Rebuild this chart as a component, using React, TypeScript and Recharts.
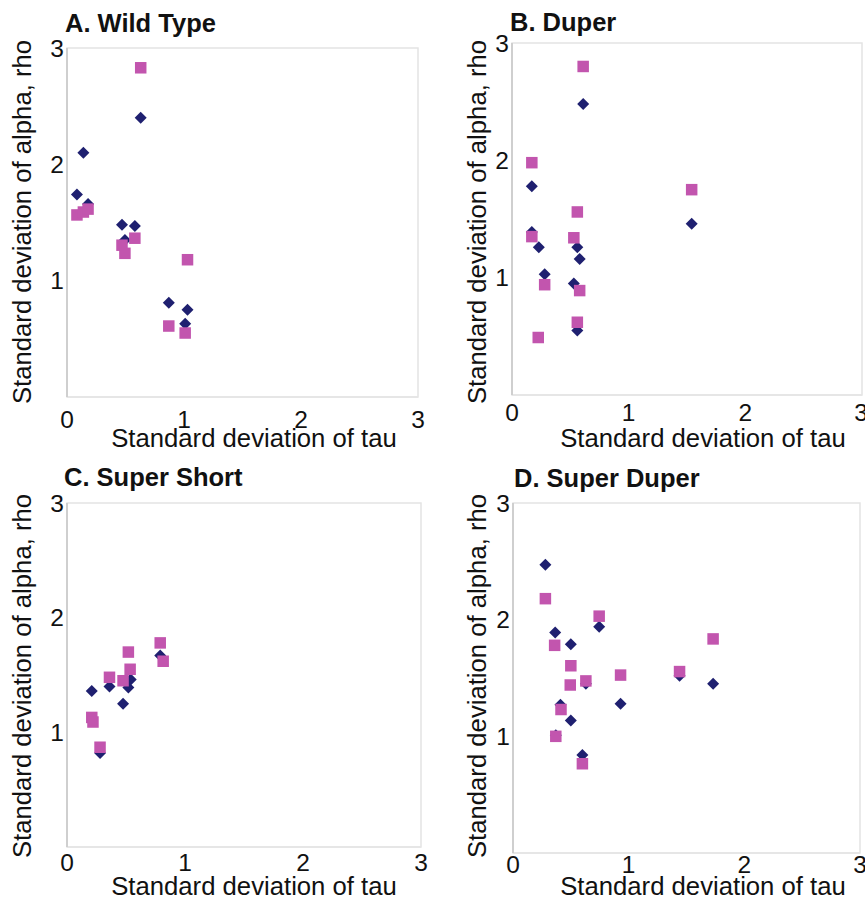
import React from "react";
import { ReferenceArea, Scatter, ScatterChart, XAxis, YAxis } from "recharts";

type Pt = { x: number; y: number };

// axis ticks shared by all four panels
const xTicks = [0, 1, 2, 3];
const yTicks = [1, 2, 3];

// A. Wild Type
const wildTypeDiamonds: Pt[] = [
  { x: 0.085, y: 1.74 },
  { x: 0.14, y: 2.1 },
  { x: 0.18, y: 1.66 },
  { x: 0.47, y: 1.48 },
  { x: 0.58, y: 1.47 },
  { x: 0.495, y: 1.35 },
  { x: 0.63, y: 2.4 },
  { x: 0.87, y: 0.81 },
  { x: 1.03, y: 0.75 },
  { x: 1.01, y: 0.63 },
];
const wildTypeSquares: Pt[] = [
  { x: 0.63, y: 2.83 },
  { x: 0.085, y: 1.565 },
  { x: 0.14, y: 1.59 },
  { x: 0.18, y: 1.615 },
  { x: 0.47, y: 1.305 },
  { x: 0.495, y: 1.235 },
  { x: 0.58, y: 1.365 },
  { x: 1.03, y: 1.18 },
  { x: 0.87, y: 0.61 },
  { x: 1.01, y: 0.55 },
];

// B. Duper
const duperDiamonds: Pt[] = [
  { x: 0.17, y: 1.78 },
  { x: 0.17, y: 1.39 },
  { x: 0.23, y: 1.26 },
  { x: 0.28, y: 1.03 },
  { x: 0.61, y: 2.48 },
  { x: 0.56, y: 1.26 },
  { x: 0.58, y: 1.16 },
  { x: 0.53, y: 0.95 },
  { x: 0.56, y: 0.55 },
  { x: 1.54, y: 1.46 },
];
const duperSquares: Pt[] = [
  { x: 0.17, y: 1.98 },
  { x: 0.17, y: 1.35 },
  { x: 0.28, y: 0.94 },
  { x: 0.225, y: 0.49 },
  { x: 0.61, y: 2.8 },
  { x: 0.56, y: 1.56 },
  { x: 0.53, y: 1.34 },
  { x: 0.58, y: 0.89 },
  { x: 0.56, y: 0.62 },
  { x: 1.54, y: 1.75 },
];

// C. Super Short
const superShortDiamonds: Pt[] = [
  { x: 0.21, y: 1.36 },
  { x: 0.36, y: 1.4 },
  { x: 0.475, y: 1.25 },
  { x: 0.52, y: 1.39 },
  { x: 0.54, y: 1.46 },
  { x: 0.79, y: 1.67 },
  { x: 0.28, y: 0.82 },
];
const superShortSquares: Pt[] = [
  { x: 0.79, y: 1.78 },
  { x: 0.52, y: 1.7 },
  { x: 0.535, y: 1.55 },
  { x: 0.36, y: 1.48 },
  { x: 0.475, y: 1.45 },
  { x: 0.815, y: 1.62 },
  { x: 0.21, y: 1.13 },
  { x: 0.22, y: 1.09 },
  { x: 0.28, y: 0.87 },
];

// D. Super Duper
const superDuperDiamonds: Pt[] = [
  { x: 0.28, y: 2.47 },
  { x: 0.365, y: 1.89 },
  { x: 0.5, y: 1.79 },
  { x: 0.745, y: 1.94 },
  { x: 0.41, y: 1.27 },
  { x: 0.5, y: 1.135 },
  { x: 0.6, y: 0.84 },
  { x: 0.37, y: 1.01 },
  { x: 0.63, y: 1.45 },
  { x: 0.93, y: 1.28 },
  { x: 1.44, y: 1.52 },
  { x: 1.73, y: 1.45 },
];
const superDuperSquares: Pt[] = [
  { x: 0.28, y: 2.18 },
  { x: 0.36, y: 1.78 },
  { x: 0.5, y: 1.605 },
  { x: 0.495, y: 1.44 },
  { x: 0.63, y: 1.475 },
  { x: 0.745, y: 2.03 },
  { x: 0.415, y: 1.23 },
  { x: 0.37, y: 1.0 },
  { x: 0.6, y: 0.765 },
  { x: 0.93, y: 1.525 },
  { x: 1.44, y: 1.555 },
  { x: 1.73, y: 1.835 },
];

const NAVY = "#1f2070";
const MAGENTA = "#c255ae";
const INK = "#111";
const FONT = '"Liberation Sans", Arial, Helvetica, sans-serif';
const TICK_SIZE = 24.5;
const TITLE_SIZE = 25.7;

function Diamond(props: any) {
  const { cx, cy } = props;
  const r = 6;
  return (
    <path
      d={`M${cx},${cy - r}L${cx + r},${cy}L${cx},${cy + r}L${cx - r},${cy}Z`}
      fill={NAVY}
    />
  );
}

function Square(props: any) {
  const { cx, cy } = props;
  const s = 5.75;
  return <rect x={cx - s} y={cy - s} width={s * 2} height={s * 2} fill={MAGENTA} />;
}

function XTick(props: any) {
  const { x, y, payload } = props;
  return (
    <text x={x} y={y} dy="0.72em" textAnchor="middle" fontFamily={FONT} fontSize={TICK_SIZE} fill={INK}>
      {payload.value}
    </text>
  );
}

function YTick(props: any) {
  const { x, y, payload } = props;
  return (
    <text x={x} y={y} dy="0.36em" textAnchor="end" fontFamily={FONT} fontSize={TICK_SIZE} fill={INK}>
      {payload.value}
    </text>
  );
}

type PanelProps = {
  title: string;
  left: number;
  top: number;
  width: number;
  height: number;
  plot: { left: number; top: number; right: number; bottom: number };
  xTickGap: number;
  titleX: number;
  titleBaseline: number;
  xTitle: { cx: number; baseline: number };
  yTitle: { x: number; cy: number };
  diamonds: Pt[];
  squares: Pt[];
};

function Panel(p: PanelProps) {
  const margin = {
    top: p.plot.top - p.top,
    right: p.left + p.width - p.plot.right,
    left: 0,
    bottom: 0,
  };

  return (
    <>
      <div
        style={{
          position: "absolute",
          left: p.titleX,
          top: p.titleBaseline - 21.6,
          fontFamily: FONT,
          fontWeight: "bold",
          fontSize: 25.5,
          lineHeight: "25.5px",
          color: INK,
          whiteSpace: "nowrap",
        }}
      >
        {p.title}
      </div>
      <div style={{ position: "absolute", left: p.left, top: p.top }}>
        <ScatterChart width={p.width} height={p.height} margin={margin}>
          <ReferenceArea
            x1={0}
            x2={3}
            y1={0}
            y2={3}
            fill="none"
            stroke="#e4e4e4"
            strokeWidth={1.5}
          />
          <XAxis
            type="number"
            dataKey="x"
            domain={[0, 3]}
            ticks={xTicks}
            allowDataOverflow
            height={p.top + p.height - p.plot.bottom}
            tickLine={false}
            tickSize={0}
            tickMargin={p.xTickGap}
            axisLine={{ stroke: "#e4e4e4", strokeWidth: 1.5 }}
            tick={<XTick />}
            label={() => (
              <text
                x={p.xTitle.cx - p.left}
                y={p.xTitle.baseline - p.top}
                textAnchor="middle"
                fontFamily={FONT}
                fontSize={TITLE_SIZE}
                fill={INK}
              >
                Standard deviation of tau
              </text>
            )}
          />
          <YAxis
            type="number"
            dataKey="y"
            domain={[0, 3]}
            ticks={yTicks}
            allowDataOverflow
            width={p.plot.left - p.left}
            tickLine={false}
            tickSize={0}
            tickMargin={3}
            axisLine={{ stroke: "#cfcfcf", strokeWidth: 2 }}
            tick={<YTick />}
            label={() => {
              const x = p.yTitle.x - p.left;
              const y = p.yTitle.cy - p.top;
              return (
                <text
                  x={x}
                  y={y}
                  transform={`rotate(-90, ${x}, ${y})`}
                  textAnchor="middle"
                  fontFamily={FONT}
                  fontSize={TITLE_SIZE}
                  fill={INK}
                >
                  Standard deviation of alpha, rho
                </text>
              );
            }}
          />
          <Scatter data={p.diamonds} shape={Diamond} isAnimationActive={false} />
          <Scatter data={p.squares} shape={Square} isAnimationActive={false} />
        </ScatterChart>
      </div>
    </>
  );
}

export default function App() {
  return (
    <div
      style={{
        position: "absolute",
        left: 0,
        top: 0,
        width: 865,
        height: 898,
        background: "#fff",
        overflow: "hidden",
      }}
    >
      <Panel
        title="A. Wild Type"
        left={0}
        top={0}
        width={430}
        height={450}
        plot={{ left: 67, top: 48, right: 418, bottom: 397 }}
        xTickGap={13}
        titleX={65}
        titleBaseline={33}
        xTitle={{ cx: 254, baseline: 447 }}
        yTitle={{ x: 31, cy: 222 }}
        diamonds={wildTypeDiamonds}
        squares={wildTypeSquares}
      />
      <Panel
        title="B. Duper"
        left={430}
        top={0}
        width={435}
        height={450}
        plot={{ left: 512, top: 43, right: 862, bottom: 395 }}
        xTickGap={8}
        titleX={510}
        titleBaseline={32}
        xTitle={{ cx: 703, baseline: 447 }}
        yTitle={{ x: 486, cy: 222 }}
        diamonds={duperDiamonds}
        squares={duperSquares}
      />
      <Panel
        title="C. Super Short"
        left={0}
        top={450}
        width={430}
        height={448}
        plot={{ left: 67, top: 503, right: 421, bottom: 847 }}
        xTickGap={6}
        titleX={64}
        titleBaseline={487}
        xTitle={{ cx: 254, baseline: 895 }}
        yTitle={{ x: 31, cy: 676 }}
        diamonds={superShortDiamonds}
        squares={superShortSquares}
      />
      <Panel
        title="D. Super Duper"
        left={430}
        top={450}
        width={435}
        height={448}
        plot={{ left: 513, top: 503, right: 860, bottom: 853 }}
        xTickGap={2}
        titleX={514}
        titleBaseline={488}
        xTitle={{ cx: 703, baseline: 895 }}
        yTitle={{ x: 486, cy: 676 }}
        diamonds={superDuperDiamonds}
        squares={superDuperSquares}
      />
    </div>
  );
}
